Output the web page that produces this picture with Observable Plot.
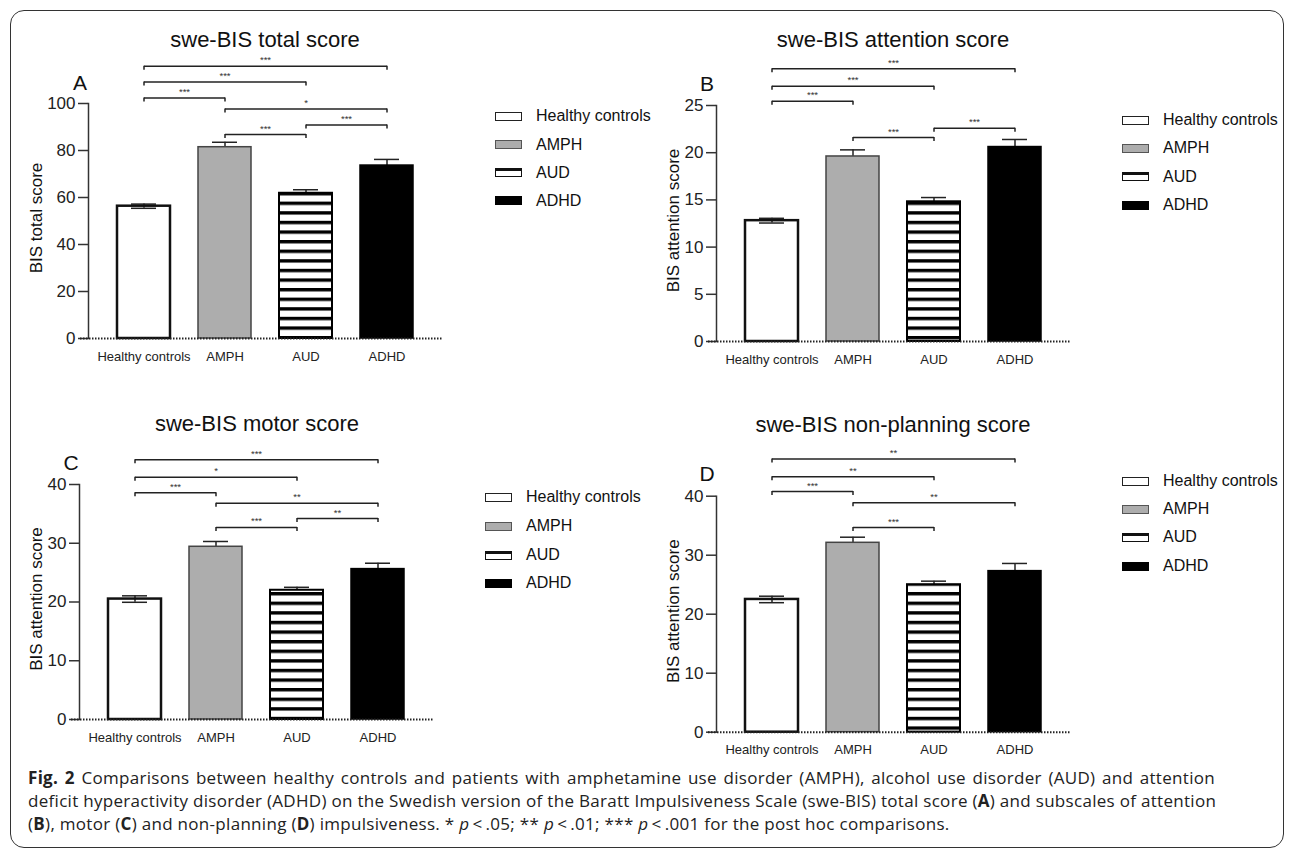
<!DOCTYPE html>
<html>
<head>
<meta charset="utf-8">
<script src="https://cdn.jsdelivr.net/npm/d3@7"></script>
<script src="https://cdn.jsdelivr.net/npm/@observablehq/plot@0.6"></script>
<style>
  html, body { margin: 0; padding: 0; background: #fff; }
  #fig { position: relative; width: 1292px; height: 856px; overflow: hidden; font-family: "Liberation Sans", Arial, sans-serif; color: #111; }
  .border { position: absolute; left: 10px; top: 10px; width: 1274px; height: 838px; border: 1.5px solid #333; border-radius: 14px; box-sizing: border-box; }
  .plotbox { position: absolute; }
  .title { position: absolute; font-size: 22px; white-space: nowrap; transform: translate(-50%, -50%); }
  .letter { position: absolute; font-size: 21px; transform: translate(-50%, -50%); }
  .lrow { position: absolute; display: flex; align-items: center; font-size: 16px; white-space: nowrap; transform: translateY(-50%); }
  .sw { width: 27px; height: 9px; box-sizing: border-box; margin-right: 14px; }
  .caption { position: absolute; left: 28px; top: 766px; width: 1187px; font-family: "Open Sans", Lato, sans-serif; font-size: 17px; letter-spacing: 0.3px; line-height: 23px; color: #222; }
  .caption .j { white-space: nowrap; text-align: justify; text-align-last: justify; }
  .caption .l { white-space: nowrap; }
</style>
</head>
<body>
<svg width="0" height="0" style="position:absolute">
  <defs>
    <pattern id="hstripes" patternUnits="userSpaceOnUse" width="10" height="9.6">
      <rect width="10" height="9.6" fill="#fff"></rect>
      <rect width="10" height="3.4" fill="#000"></rect>
    </pattern>
  </defs>
</svg>
<div id="fig"><div class="border"></div></div>
<script>
// ---------- data ----------
const groups = ["Healthy controls", "AMPH", "AUD", "ADHD"];

const totalMean = [56.3, 81.4, 61.8, 73.6];
const totalSem = [0.9, 2.1, 1.5, 2.6];
const totalTicks = [0, 20, 40, 60, 80, 100];
const totalBrackets = [
  {a: "Healthy controls", b: "ADHD", y: 115.9, label: "***"},
  {a: "Healthy controls", b: "AUD", y: 109.1, label: "***"},
  {a: "Healthy controls", b: "AMPH", y: 102.3, label: "***"},
  {a: "AMPH", b: "ADHD", y: 97.7, label: "*"},
  {a: "AUD", b: "ADHD", y: 90.9, label: "***"},
  {a: "AMPH", b: "AUD", y: 86.8, label: "***"}
];

const attentionMean = [12.8, 19.6, 14.8, 20.6];
const attentionSem = [0.25, 0.7, 0.45, 0.8];
const attentionTicks = [0, 5, 10, 15, 20, 25];
const attentionBrackets = [
  {a: "Healthy controls", b: "ADHD", y: 28.9, label: "***"},
  {a: "Healthy controls", b: "AUD", y: 27.05, label: "***"},
  {a: "Healthy controls", b: "AMPH", y: 25.45, label: "***"},
  {a: "AUD", b: "ADHD", y: 22.6, label: "***"},
  {a: "AMPH", b: "AUD", y: 21.6, label: "***"}
];

const motorMean = [20.5, 29.4, 22.0, 25.6];
const motorSem = [0.55, 0.9, 0.5, 1.0];
const motorTicks = [0, 10, 20, 30, 40];
const motorBrackets = [
  {a: "Healthy controls", b: "ADHD", y: 44.2, label: "***"},
  {a: "Healthy controls", b: "AUD", y: 41.25, label: "*"},
  {a: "Healthy controls", b: "AMPH", y: 38.6, label: "***"},
  {a: "AMPH", b: "ADHD", y: 36.8, label: "**"},
  {a: "AUD", b: "ADHD", y: 34.2, label: "**"},
  {a: "AMPH", b: "AUD", y: 32.7, label: "***"}
];

const nonplanMean = [22.5, 32.1, 25.0, 27.3];
const nonplanSem = [0.55, 0.95, 0.6, 1.3];
const nonplanTicks = [0, 10, 20, 30, 40];
const nonplanBrackets = [
  {a: "Healthy controls", b: "ADHD", y: 46.3, label: "**"},
  {a: "Healthy controls", b: "AUD", y: 43.3, label: "**"},
  {a: "Healthy controls", b: "AMPH", y: 40.8, label: "***"},
  {a: "AMPH", b: "ADHD", y: 38.9, label: "**"},
  {a: "AMPH", b: "AUD", y: 34.7, label: "***"}
];

const barFill = {"Healthy controls": "none", "AMPH": "#adadad", "AUD": "url(#hstripes)", "ADHD": "#000"};
const barStroke = {"Healthy controls": "#111", "AMPH": "#444", "AUD": "#000", "ADHD": "#000"};
const barStrokeWidth = {"Healthy controls": 2.5, "AMPH": 1.5, "AUD": 2, "ADHD": 1.5};

// ---------- drawing ----------
const fig = document.getElementById("fig");

function addDiv(cls, x, y, html) {
  const d = document.createElement("div");
  d.className = cls;
  d.style.left = x + "px";
  d.style.top = y + "px";
  d.innerHTML = html;
  fig.appendChild(d);
  return d;
}

const swatchStyle = {
  "Healthy controls": "background:#fff;border:1.5px solid #222;",
  "AMPH": "background:#adadad;border:1.5px solid #555;",
  "AUD": "background:#fff;border:1.5px solid #111;border-top-width:3.5px;",
  "ADHD": "background:#000;"
};

function panel(cfg) {
  const data = groups.map((g, i) => ({group: g, mean: cfg.means[i], sem: cfg.sems[i]}));
  const br = cfg.brackets;
  const chart = Plot.plot({
    width: cfg.width,
    height: cfg.height,
    marginLeft: cfg.ml,
    marginRight: cfg.mr,
    marginTop: cfg.mt,
    marginBottom: cfg.mb,
    style: {fontFamily: "'Liberation Sans', Arial, sans-serif", color: "#222", background: "transparent", overflow: "visible"},
    x: {domain: groups, padding: 0.34, label: null},
    y: {domain: [0, cfg.max], label: null},
    color: {type: "identity"},
    marks: [
      Plot.ruleX(data, {x: "group", y1: d => d.mean - d.sem, y2: d => d.mean + d.sem, stroke: "#222", strokeWidth: 1.5}),
      Plot.tickY(data, {x: "group", y: d => d.mean - d.sem, insetLeft: 14, insetRight: 14, stroke: "#222", strokeWidth: 1.5}),
      Plot.tickY(data, {x: "group", y: d => d.mean + d.sem, insetLeft: 14, insetRight: 14, stroke: "#222", strokeWidth: 1.5}),
      Plot.barY(data, {x: "group", y: "mean", fill: d => barFill[d.group], stroke: d => barStroke[d.group], strokeWidth: d => barStrokeWidth[d.group]}),
      Plot.frame({anchor: "left", stroke: "#333", strokeWidth: 1.5}),
      Plot.axisY({ticks: cfg.ticks, tickSize: 10, tickPadding: 3, fontSize: 17, label: null, strokeWidth: 1.5, stroke: "#333"}),
      Plot.axisX({tickSize: 0, tickPadding: 13, fontSize: 13, label: null}),
      Plot.ruleY([0], {stroke: "#222", strokeWidth: 2, strokeDasharray: "1.5,1.5", insetLeft: -8}),
      Plot.text([cfg.yLabel], {frameAnchor: "left", textAnchor: "middle", lineAnchor: "middle", rotate: -90, dx: -cfg.labelOffset, dy: -3, fontSize: 17, fill: "#111"}),
      Plot.link(br, {x1: "a", x2: "b", y1: "y", y2: "y", stroke: "#222", strokeWidth: 1.5}),
      Plot.ruleX(br, {x: "a", y1: "y", y2: "y", insetBottom: -4, stroke: "#222", strokeWidth: 1.5}),
      Plot.ruleX(br, {x: "b", y1: "y", y2: "y", insetBottom: -4, stroke: "#222", strokeWidth: 1.5}),
      Plot.text(br, {
        x: "a", y: "y", text: "label", dy: -6, fontSize: 9.5, fill: "#333",
        render(index, scales, values, dimensions, context, next) {
          const X = Array.from(values.x);
          for (const i of index) X[i] = (scales.x(br[i].a) + scales.x(br[i].b)) / 2;
          return next(index, scales, {...values, x: X}, dimensions, context);
        }
      })
    ]
  });
  const box = document.createElement("div");
  box.className = "plotbox";
  box.style.left = cfg.left + "px";
  box.style.top = cfg.top + "px";
  box.appendChild(chart);
  fig.appendChild(box);

  addDiv("title", cfg.titleX, cfg.titleY, cfg.title);
  addDiv("letter", cfg.letterX, cfg.letterY, cfg.letter);
  groups.forEach((g, i) => {
    addDiv("lrow", cfg.legendX, cfg.legendY[i], `<div class="sw" style="${swatchStyle[g]}"></div><span>${g}</span>`);
  });
}

panel({
  means: totalMean, sems: totalSem, ticks: totalTicks, max: 100, brackets: totalBrackets,
  yLabel: "BIS total score", title: "swe-BIS total score", letter: "A", labelOffset: 52,
  left: 0, top: 0, width: 460, height: 380, ml: 88, mr: 18, mt: 103, mb: 42,
  titleX: 265, titleY: 40, letterX: 80, letterY: 83,
  legendX: 495, legendY: [116, 144.5, 172.7, 200.7]
});
panel({
  means: attentionMean, sems: attentionSem, ticks: attentionTicks, max: 25, brackets: attentionBrackets,
  yLabel: "BIS attention score", title: "swe-BIS attention score", letter: "B", labelOffset: 43,
  left: 628, top: 0, width: 460, height: 380, ml: 88, mr: 18, mt: 105, mb: 39,
  titleX: 893, titleY: 40, letterX: 707, letterY: 84,
  legendX: 1122, legendY: [120, 148.3, 176.7, 205]
});
panel({
  means: motorMean, sems: motorSem, ticks: motorTicks, max: 40, brackets: motorBrackets,
  yLabel: "BIS attention score", title: "swe-BIS motor score", letter: "C", labelOffset: 43,
  left: 0, top: 400, width: 460, height: 360, ml: 79, mr: 27, mt: 84, mb: 41,
  titleX: 257, titleY: 424, letterX: 71, letterY: 463,
  legendX: 485, legendY: [497, 526, 555, 583]
});
panel({
  means: nonplanMean, sems: nonplanSem, ticks: nonplanTicks, max: 40, brackets: nonplanBrackets,
  yLabel: "BIS attention score", title: "swe-BIS non-planning score", letter: "D", labelOffset: 43,
  left: 628, top: 400, width: 460, height: 380, ml: 88, mr: 18, mt: 95.7, mb: 48.3,
  titleX: 893, titleY: 425, letterX: 707, letterY: 474,
  legendX: 1122, legendY: [481, 509, 537, 566]
});

const cap = document.createElement("div");
cap.className = "caption";
cap.innerHTML =
  '<div class="j"><b>Fig. 2</b> Comparisons between healthy controls and patients with amphetamine use disorder (AMPH), alcohol use disorder (AUD) and attention</div>' +
  '<div class="j">deficit hyperactivity disorder (ADHD) on the Swedish version of the Baratt Impulsiveness Scale (swe-BIS) total score (<b>A</b>) and subscales of attention</div>' +
  '<div class="l">(<b>B</b>), motor (<b>C</b>) and non-planning (<b>D</b>) impulsiveness. * <i>p</i>&thinsp;&lt;&thinsp;.05; ** <i>p</i>&thinsp;&lt;&thinsp;.01; *** <i>p</i>&thinsp;&lt;&thinsp;.001 for the post hoc comparisons.</div>';
fig.appendChild(cap);
</script>
</body>
</html>
